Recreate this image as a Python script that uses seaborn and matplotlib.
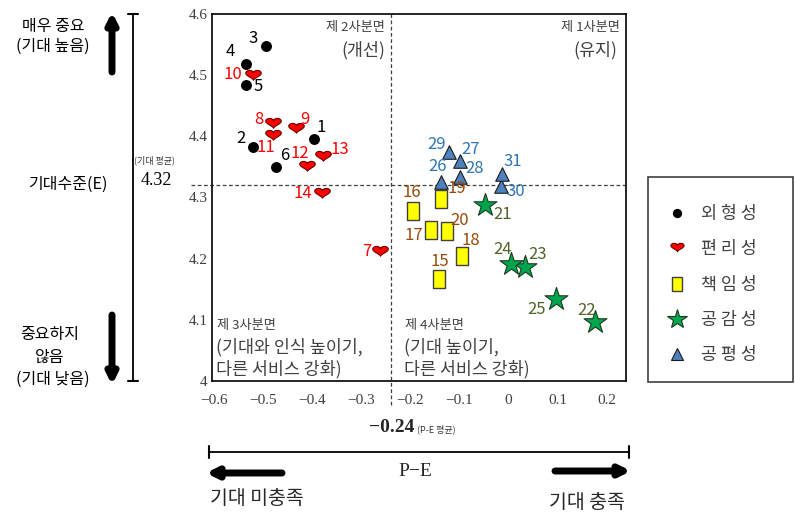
import numpy as np
import pandas as pd
import matplotlib.pyplot as plt
import seaborn as sns
from matplotlib.path import Path
from matplotlib.lines import Line2D
from matplotlib.patches import Rectangle

sns.set_theme(style="white")
plt.rcParams['font.family'] = ['Noto Sans CJK KR', 'DejaVu Sans']
plt.rcParams['axes.unicode_minus'] = True

# item numbers, P-E gap and expectation E for each dimension
ids_appear = [1, 2, 3, 4, 5, 6]
pe_appear = [-0.396, -0.522, -0.495, -0.536, -0.536, -0.474]
e_appear = [4.395, 4.383, 4.548, 4.518, 4.484, 4.350]

ids_conv = [7, 8, 9, 10, 11, 12, 13, 14]
pe_conv = [-0.262, -0.481, -0.434, -0.521, -0.481, -0.411, -0.379, -0.381]
e_conv = [4.211, 4.420, 4.412, 4.499, 4.401, 4.350, 4.367, 4.305]

ids_resp = [15, 16, 17, 18, 19, 20]
pe_resp = [-0.141, -0.195, -0.157, -0.095, -0.137, -0.125]
e_resp = [4.166, 4.278, 4.247, 4.204, 4.297, 4.245]

ids_emp = [21, 22, 23, 24, 25]
pe_emp = [-0.047, 0.177, 0.033, 0.005, 0.097]
e_emp = [4.288, 4.097, 4.186, 4.191, 4.134]

ids_fair = [26, 27, 28, 29, 30, 31]
pe_fair = [-0.138, -0.099, -0.099, -0.121, -0.015, -0.013]
e_fair = [4.325, 4.359, 4.334, 4.374, 4.318, 4.339]

groups = ["외형성", "편리성", "책임성", "공감성", "공평성"]
legend_names = ["외 형 성", "편 리 성", "책 임 성", "공 감 성", "공 평 성"]

e_mean = 4.32
pe_mean = -0.24

y_ticks = [4.0, 4.1, 4.2, 4.3, 4.4, 4.5, 4.6]
y_ticklabels = ["4", "4.1", "4.2", "4.3", "4.4", "4.5", "4.6"]
x_ticks = [-0.6, -0.5, -0.4, -0.3, -0.2, -0.1, 0.0, 0.1, 0.2]
x_ticklabels = ["\u22120.6", "\u22120.5", "\u22120.4", "\u22120.3", "\u22120.2", "\u22120.1", "0", "0.1", "0.2"]

# build one table
frames = []
for g, ids, pe, e in zip(groups,
                         [ids_appear, ids_conv, ids_resp, ids_emp, ids_fair],
                         [pe_appear, pe_conv, pe_resp, pe_emp, pe_fair],
                         [e_appear, e_conv, e_resp, e_emp, e_fair]):
    frames.append(pd.DataFrame({"id": ids, "PE": pe, "E": e, "group": g}))
df = pd.concat(frames, ignore_index=True)

# marker shapes
t = np.linspace(0, 2 * np.pi, 80)
hx = 16 * np.sin(t) ** 3
hy = (13 * np.cos(t) - 5 * np.cos(2 * t) - 2 * np.cos(3 * t) - np.cos(4 * t) + 6) * 0.7
heart = Path(np.column_stack([hx, hy]), closed=True)
rect = Path([(-0.36, -0.5), (0.36, -0.5), (0.36, 0.5), (-0.36, 0.5), (-0.36, -0.5)], closed=True)

styles = {
    "외형성": dict(marker="o", s=62, color="black", edgecolor="black", linewidth=0, tc="black"),
    "편리성": dict(marker=heart, s=125, color="#FF0000", edgecolor="#6a0000", linewidth=0.8, tc="#FF0000"),
    "책임성": dict(marker=rect, s=150, color="#FFFF00", edgecolor="#404040", linewidth=1.0, tc="#984807"),
    "공감성": dict(marker="*", s=300, color="#00A550", edgecolor="#1c3a1c", linewidth=0.8, tc="#4F6228"),
    "공평성": dict(marker="^", s=95, color="#4F81BD", edgecolor="#1a1a1a", linewidth=0.8, tc="#2E75B6"),
}

# label offsets in pixels (dx right, dy down)
label_off = {1: (7, -12), 2: (-12, -8), 3: (-13, -7), 4: (-16, -13), 5: (12, 2), 6: (9, -11),
             7: (-13, 0), 8: (-14, -5), 9: (9, -9), 10: (-20, -1), 11: (-7, 12), 12: (-7, -13),
             13: (17, -7), 14: (-19, -1), 15: (0, -18), 16: (-1, -18), 17: (-18, 6), 18: (9, -16),
             19: (16, -11), 20: (12, -11), 21: (17, 10), 22: (-9, -11), 23: (13, -13), 24: (-8, -15),
             25: (-19, 10), 26: (-3, -16), 27: (11, -12), 28: (15, -8), 29: (-13, -8), 30: (15, 5),
             31: (11, -12)}

W, H = 795, 515
def fx(px):
    return px / W
def fy(py):
    return 1 - py / H

fig = plt.figure(figsize=(7.95, 5.15), dpi=100)
ax = fig.add_axes([fx(212), fy(381), (626 - 212) / W, (381 - 14) / H])

for g in groups:
    st = styles[g]
    sub = df[df["group"] == g]
    sns.scatterplot(data=sub, x="PE", y="E", marker=st["marker"], s=st["s"], color=st["color"],
                    edgecolor=st["edgecolor"], linewidth=st["linewidth"], ax=ax, legend=False, zorder=3)
    for _, r in sub.iterrows():
        dx, dy = label_off[int(r["id"])]
        ax.annotate(str(int(r["id"])), (r["PE"], r["E"]), xytext=(dx, -dy), textcoords="offset pixels",
                    ha="center", va="center", fontsize=12, color=st["tc"], zorder=4)

# mean lines
ax.axhline(e_mean, xmin=-0.05, xmax=1, color="#404040", lw=0.9, ls=(0, (3, 2)), clip_on=False, zorder=1)
ax.axvline(pe_mean, ymin=-0.065, ymax=1, color="#404040", lw=0.9, ls=(0, (3, 2)), clip_on=False, zorder=1)

ax.set_xlim(-0.605, 0.24)
ax.set_ylim(4.0, 4.6)
ax.set_xticks(x_ticks)
ax.set_xticklabels(x_ticklabels)
ax.set_yticks(y_ticks)
ax.set_yticklabels(y_ticklabels)
ax.tick_params(length=0, labelsize=11, labelcolor="#404040")
ax.tick_params(axis="x", pad=9)
ax.tick_params(axis="y", pad=3)
for lab in ax.get_xticklabels() + ax.get_yticklabels():
    lab.set_fontfamily(["Liberation Serif", "DejaVu Serif"])
ax.set_xlabel("")
ax.set_ylabel("")
for sp in ax.spines.values():
    sp.set_color("black")
    sp.set_linewidth(1.2)

# quadrant notes
qc = "#404040"
ax.text(fx(385), fy(28), "제 2사분면", transform=fig.transFigure, ha="right", va="center", fontsize=9.5, color=qc)
ax.text(fx(385), fy(50), "(개선)", transform=fig.transFigure, ha="right", va="center", fontsize=12.5, color=qc)
ax.text(fx(620), fy(28), "제 1사분면", transform=fig.transFigure, ha="right", va="center", fontsize=9.5, color=qc)
ax.text(fx(617), fy(50), "(유지)", transform=fig.transFigure, ha="right", va="center", fontsize=12.5, color=qc)
ax.text(fx(217), fy(326), "제 3사분면", transform=fig.transFigure, ha="left", va="center", fontsize=9.5, color=qc)
ax.text(fx(216), fy(347), "(기대와 인식 높이기,", transform=fig.transFigure, ha="left", va="center", fontsize=12.5, color=qc)
ax.text(fx(216), fy(369), "다른 서비스 강화)", transform=fig.transFigure, ha="left", va="center", fontsize=12.5, color=qc)
ax.text(fx(405), fy(326), "제 4사분면", transform=fig.transFigure, ha="left", va="center", fontsize=9.5, color=qc)
ax.text(fx(404), fy(347), "(기대 높이기,", transform=fig.transFigure, ha="left", va="center", fontsize=12.5, color=qc)
ax.text(fx(404), fy(369), "다른 서비스 강화)", transform=fig.transFigure, ha="left", va="center", fontsize=12.5, color=qc)

# left side: expectation scale
fig.text(fx(53), fy(26), "매우 중요", ha="center", va="center", fontsize=11.5, color="black")
fig.text(fx(53), fy(46), "(기대 높음)", ha="center", va="center", fontsize=11.5, color="black")
fig.text(fx(68), fy(184), "기대수준(E)", ha="center", va="center", fontsize=11.5, color="black")
fig.text(fx(50), fy(335), "중요하지", ha="center", va="center", fontsize=11.5, color="black")
fig.text(fx(50), fy(357), "않음", ha="center", va="center", fontsize=11.5, color="black")
fig.text(fx(53), fy(379), "(기대 낮음)", ha="center", va="center", fontsize=11.5, color="black")
fig.text(fx(154), fy(160), "(기대 평균)", ha="center", va="center", fontsize=6.5, color="#333333")
fig.text(fx(156), fy(180), "4.32", ha="center", va="center", fontsize=13, color="black",
         family=["Liberation Serif", "DejaVu Serif"])

fig.add_artist(Line2D([fx(133), fx(133)], [fy(14), fy(381)], color="black", lw=1.3))
fig.add_artist(Line2D([fx(128), fx(138)], [fy(14), fy(14)], color="black", lw=1.5))
fig.add_artist(Line2D([fx(128), fx(138)], [fy(381), fy(381)], color="black", lw=1.5))
ax.annotate("", xy=(fx(112), fy(12)), xytext=(fx(112), fy(72)), xycoords="figure fraction",
            arrowprops=dict(arrowstyle="-|>", lw=5, color="black", mutation_scale=15, shrinkA=0, shrinkB=0))
ax.annotate("", xy=(fx(112), fy(385)), xytext=(fx(112), fy(315)), xycoords="figure fraction",
            arrowprops=dict(arrowstyle="-|>", lw=5, color="black", mutation_scale=15, shrinkA=0, shrinkB=0))

# bottom: P-E scale
fig.text(fx(392), fy(428), "\u22120.24", ha="center", va="center", fontsize=14, fontweight="bold",
         family=["Liberation Serif", "DejaVu Serif"])
fig.text(fx(417), fy(429), "(P-E 평균)", ha="left", va="center", fontsize=6.5, color="#333333")
fig.add_artist(Line2D([fx(209), fx(629)], [fy(452), fy(452)], color="black", lw=1.3))
fig.add_artist(Line2D([fx(209), fx(209)], [fy(446), fy(458)], color="black", lw=1.5))
fig.add_artist(Line2D([fx(629), fx(629)], [fy(446), fy(458)], color="black", lw=1.5))
fig.text(fx(415), fy(472), "P\u2212E", ha="center", va="center", fontsize=14,
         family=["Liberation Serif", "DejaVu Serif"])
ax.annotate("", xy=(fx(206), fy(473)), xytext=(fx(282), fy(473)), xycoords="figure fraction",
            arrowprops=dict(arrowstyle="-|>", lw=5, color="black", mutation_scale=15, shrinkA=0, shrinkB=0))
ax.annotate("", xy=(fx(631), fy(471)), xytext=(fx(555), fy(471)), xycoords="figure fraction",
            arrowprops=dict(arrowstyle="-|>", lw=5, color="black", mutation_scale=15, shrinkA=0, shrinkB=0))
fig.text(fx(257), fy(499), "기대 미충족", ha="center", va="center", fontsize=14)
fig.text(fx(587), fy(503), "기대 충족", ha="center", va="center", fontsize=14)

# legend
fig.add_artist(Rectangle((fx(648), fy(382)), (793 - 648) / W, (382 - 177) / H, transform=fig.transFigure,
                         fill=False, edgecolor="#404040", lw=1.2))
handles = []
for g in groups:
    st = styles[g]
    handles.append(Line2D([], [], linestyle="", marker=st["marker"], markersize=np.sqrt(st["s"]) * 0.85,
                          markerfacecolor=st["color"], markeredgecolor=st["edgecolor"],
                          markeredgewidth=st["linewidth"]))
fig.legend(handles, legend_names, loc="upper left", bbox_to_anchor=(fx(667), fy(205)), frameon=False,
           fontsize=12.5, labelcolor="#404040", handlelength=1.2, handletextpad=0.75, labelspacing=1.0,
           borderpad=0, borderaxespad=0)

fig.savefig("out.png", dpi=100)
